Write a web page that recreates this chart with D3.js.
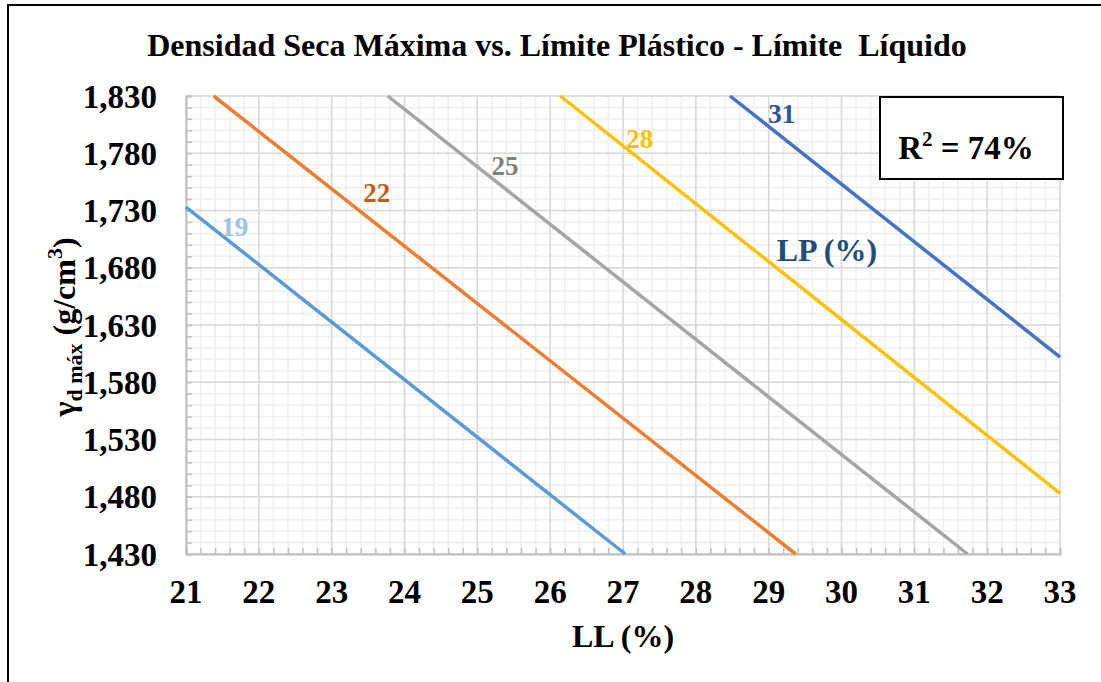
<!DOCTYPE html>
<html>
<head>
<meta charset="utf-8">
<script src="https://cdn.jsdelivr.net/npm/d3@7"></script>
<style>
  body { margin: 0; background: #fff; }
  svg text { font-family: "Liberation Serif", "Times New Roman", serif; font-weight: bold; }
</style>
</head>
<body>
<div id="chart-area"></div>
<script>
// LP (%) curves : each line given by its two end points (LL %, density g/cm3)
var lpValues  = [19, 22, 25, 28, 31];
var llStart   = [21.00, 21.38, 23.77, 26.14, 28.47];
var denStart  = [1.733, 1.830, 1.830, 1.830, 1.830];
var llEnd     = [27.03, 29.37, 31.73, 33.00, 33.00];
var denEnd    = [1.430, 1.430, 1.430, 1.483, 1.602];

// where the LP number sits, in data units
var labelLL   = [21.67, 23.62, 25.38, 27.23, 29.18];
var labelDen  = [1.708, 1.737, 1.761, 1.785, 1.806];

var lineColors  = ["#5B9BD5", "#ED7D31", "#A5A5A5", "#FFC000", "#4472C4"];
var labelColors = ["#9DC3E6", "#C55A11", "#7F7F7F", "#FFC000", "#2F5597"];

var xTicks = [21, 22, 23, 24, 25, 26, 27, 28, 29, 30, 31, 32, 33];
var yTicks = [1.430, 1.480, 1.530, 1.580, 1.630, 1.680, 1.730, 1.780, 1.830];

var rSquared = "74%";

var W = 1101, H = 682;
var margin = { left: 186, right: 41, top: 96, bottom: 128 };
var width = W - margin.left - margin.right,
    height = H - margin.top - margin.bottom;

var svg = d3.select("#chart-area")
  .append("svg")
    .attr("width", W)
    .attr("height", H)
    .attr("font-family", "'Liberation Serif', 'Times New Roman', serif");

// outer frame (runs off the right and bottom edge)
svg.append("rect")
  .attr("x", 8).attr("y", 5)
  .attr("width", W).attr("height", H)
  .attr("fill", "none")
  .attr("stroke", "#000")
  .attr("stroke-width", 2);

var g = svg.append("g")
  .attr("transform", "translate(" + margin.left + ", " + margin.top + ")");

var x = d3.scaleLinear().domain([21, 33]).range([0, width]);
var y = d3.scaleLinear().domain([1.430, 1.830]).range([height, 0]);

// minor grid (5 steps between major ticks)
var xMinor = d3.range(21, 33.0001, 0.2);
var yMinor = d3.range(1.430, 1.8301, 0.01);

g.append("g").selectAll("line")
  .data(xMinor).enter().append("line")
    .attr("x1", d => x(d)).attr("x2", d => x(d))
    .attr("y1", 0).attr("y2", height)
    .attr("stroke", "#efefef").attr("stroke-width", 1.5);
g.append("g").selectAll("line")
  .data(yMinor).enter().append("line")
    .attr("y1", d => y(d)).attr("y2", d => y(d))
    .attr("x1", 0).attr("x2", width)
    .attr("stroke", "#efefef").attr("stroke-width", 1.5);

// major grid
g.append("g").selectAll("line")
  .data(xTicks).enter().append("line")
    .attr("x1", d => x(d)).attr("x2", d => x(d))
    .attr("y1", 0).attr("y2", height)
    .attr("stroke", "#d9d9d9").attr("stroke-width", 1.5);
g.append("g").selectAll("line")
  .data(yTicks).enter().append("line")
    .attr("y1", d => y(d)).attr("y2", d => y(d))
    .attr("x1", 0).attr("x2", width)
    .attr("stroke", "#d9d9d9").attr("stroke-width", 1.5);

// axes with inside minor ticks
var xAxis = g.append("g")
  .attr("transform", "translate(0, " + height + ")")
  .call(d3.axisBottom(x).tickValues(xMinor).tickSize(-6).tickFormat(""));
var yAxis = g.append("g")
  .call(d3.axisLeft(y).tickValues(yMinor).tickSize(-6).tickFormat(""));
[xAxis, yAxis].forEach(function(a){
  a.select(".domain").attr("stroke", "#bfbfbf").attr("stroke-width", 2);
  a.selectAll(".tick line").attr("stroke", "#bfbfbf").attr("stroke-width", 1.5);
});

// tick labels
var es = d3.formatLocale({ decimal: ",", thousands: ".", grouping: [3], currency: ["", ""] });
var fmtY = es.format(".3f");

g.append("g").selectAll("text")
  .data(xTicks).enter().append("text")
    .attr("x", d => x(d))
    .attr("y", height + 49)
    .attr("text-anchor", "middle")
    .attr("font-size", "33px")
    .text(d => d);

g.append("g").selectAll("text")
  .data(yTicks).enter().append("text")
    .attr("x", -29)
    .attr("y", d => y(d))
    .attr("dy", "0.35em")
    .attr("text-anchor", "end")
    .attr("font-size", "33px")
    .text(d => fmtY(d));

// LP lines
var lines = lpValues.map(function(lp, i){
  return { lp: lp, pts: [[llStart[i], denStart[i]], [llEnd[i], denEnd[i]]] };
});
var lineGen = d3.line().x(d => x(d[0])).y(d => y(d[1]));

g.append("g").selectAll("path")
  .data(lines).enter().append("path")
    .attr("d", d => lineGen(d.pts))
    .attr("fill", "none")
    .attr("stroke", (d, i) => lineColors[i])
    .attr("stroke-width", 3.5);

g.append("g").selectAll("text")
  .data(lines).enter().append("text")
    .attr("x", (d, i) => x(labelLL[i]))
    .attr("y", (d, i) => y(labelDen[i]))
    .attr("text-anchor", "middle")
    .attr("font-size", "27px")
    .attr("fill", (d, i) => labelColors[i])
    .text(d => d.lp);

g.append("text")
  .attr("x", x(29.80))
  .attr("y", y(1.686))
  .attr("text-anchor", "middle")
  .attr("font-size", "32px")
  .attr("fill", "#1F4E79")
  .text("LP (%)");

// R2 box
svg.append("rect")
  .attr("x", 880).attr("y", 97)
  .attr("width", 183).attr("height", 82)
  .attr("fill", "#fff")
  .attr("stroke", "#000")
  .attr("stroke-width", 2);
var r2 = svg.append("text")
  .attr("x", 966).attr("y", 159)
  .attr("text-anchor", "middle")
  .attr("font-size", "33px");
r2.append("tspan").text("R");
r2.append("tspan").attr("font-size", "21px").attr("dy", "-13").text("2");
r2.append("tspan").attr("dy", "13").text(" = " + rSquared);

// title
svg.append("text")
  .attr("x", 557).attr("y", 56)
  .attr("text-anchor", "middle")
  .attr("font-size", "32px")
  .style("white-space", "pre")
  .text("Densidad Seca Máxima vs. Límite Plástico - Límite  Líquido");

// axis titles
svg.append("text")
  .attr("x", margin.left + width / 2)
  .attr("y", 647)
  .attr("text-anchor", "middle")
  .attr("font-size", "32px")
  .text("LL (%)");

var yt = svg.append("text")
  .attr("transform", "translate(75, 327) rotate(-90)")
  .attr("text-anchor", "middle")
  .attr("font-size", "32px");
yt.append("tspan").text("γ");
yt.append("tspan").attr("font-size", "22px").attr("dy", "7").text("d máx");
yt.append("tspan").attr("dy", "-7").text(" (g/cm");
yt.append("tspan").attr("font-size", "22px").attr("dy", "-13").text("3");
yt.append("tspan").attr("dy", "13").text(")");
</script>
</body>
</html>
